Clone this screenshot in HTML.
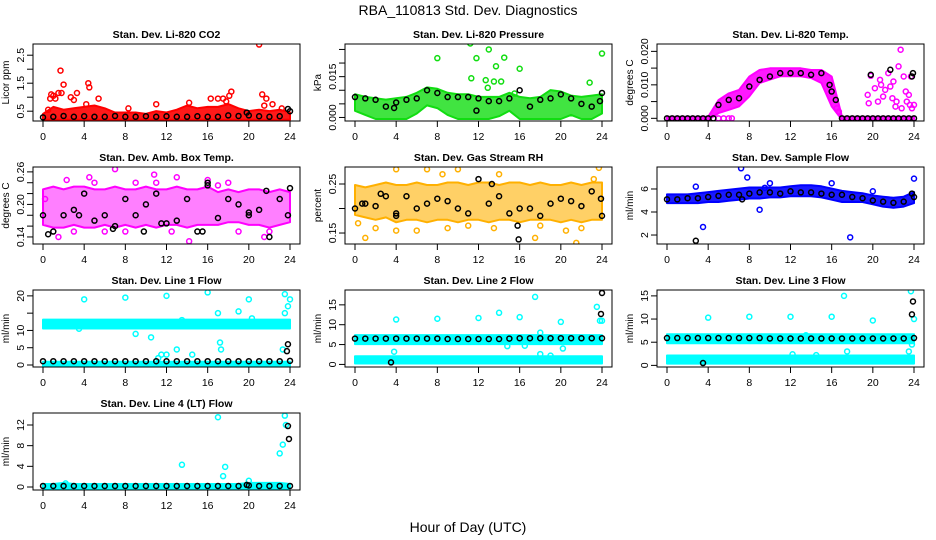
<!DOCTYPE html>
<html><head><meta charset="utf-8"><style>
html,body{margin:0;padding:0;background:#fff;}
svg{display:block;font-family:"Liberation Sans",Arial,sans-serif;}
</style></head><body>
<svg id="chart" width="936" height="540" viewBox="0 0 936 540">
<text x="468" y="15" text-anchor="middle" font-size="14">RBA_110813  Std. Dev. Diagnostics</text>
<text x="468" y="532" text-anchor="middle" font-size="14">Hour of Day (UTC)</text>
</svg>
<script>
const hours = [0,1,2,3,4,5,6,7,8,9,10,11,12,13,14,15,16,17,18,19,20,21,22,23,24];
const xTicks = [0,4,8,12,16,20,24];

// ---- CO2 ----
const co2BandLo = [0.25,0.25,0.25,0.25,0.25,0.25,0.25,0.25,0.25,0.25,0.25,0.25,0.25,0.25,0.25,0.25,0.25,0.25,0.25,0.25,0.25,0.25,0.25,0.25,0.25];
const co2BandHi = [0.35,0.6,0.5,0.55,0.6,0.65,0.55,0.4,0.4,0.4,0.35,0.45,0.4,0.5,0.65,0.55,0.6,0.6,0.7,0.55,0.45,0.5,0.45,0.5,0.4];
const co2Outliers = [[0.8,1.1],[0.7,0.95],[1,1.05],[1.2,0.95],[1.5,1.15],[1.7,1.95],[2.0,1.45],[1.8,1.15],[2.7,1.0],[3.0,0.9],[3.3,1.15],[4.4,1.5],[4.5,1.35],[5.4,0.95],[4.2,0.75],[8.3,0.6],[11,0.75],[14.2,0.8],[16.3,0.95],[17,0.95],[17.5,0.95],[17.8,0.85],[18.1,1.05],[18.3,1.2],[21,2.88],[21.3,1.1],[21.7,0.95],[21.5,0.7],[22.3,0.75],[0.5,0.55],[23.2,0.6]];
const co2Black = [0.28,0.3,0.33,0.3,0.32,0.3,0.3,0.33,0.3,0.3,0.32,0.3,0.32,0.3,0.3,0.32,0.3,0.3,0.35,0.33,0.35,0.32,0.3,0.32,0.5];
const co2BlackExtra = [[23.8,0.58],[19.8,0.45]];

// ---- Pressure (x0.001 kPa) ----
const prBandLo = [3,1.5,0,0,0,0,2,5,4,1.5,0,0,0,0,1,3,0,0,0,0,0,1.5,0,0,2];
const prBandHi = [8,7,6.5,6,6.5,7,8.5,10.5,10,8.5,8,8,7,7,7,8.5,7,6.5,7,9.5,9,7.5,7,7.5,8];
const prOutliers = [[8,21.8],[11.2,27.2],[11.3,14.4],[11.8,21.8],[13,25],[12.7,13.7],[13.5,13.2],[13.7,18.8],[14.2,13.2],[12.9,10.9],[14.5,22],[16,17.9],[22.8,12.8],[24,23.5],[15.5,8.8]];
const prBlack = [7.5,7,6.5,4,5.5,6.5,7,10,9,7.5,7.5,7.5,7,6,6,7,10,4,6.5,7,8.5,7,5,4,9];
const prBlackExtra = [[23.8,6],[11.8,2.5],[3.8,3.5]];

// ---- Li-820 Temp (x0.001 C) ----
const tmBandLo = [0,0,0,0,0,2,3,4,7,11,12,13,13,13,12.5,11,4,0,0,0,0,0,0,0,0];
const tmBandHi = [0,0,0,0,0,5,7,8,12,14,14.5,14.5,14.5,14.5,14,14,12,0,0,0,0,0,0,0,0];
const tmOutliers = [[5,0],[5.5,0],[6,0],[6.3,0],[16.5,3],[16.7,2],[19.5,7],[19.8,12.7],[20.2,9],[20.5,5],[20.8,10],[21,6.5],[21.2,8.5],[21.5,13.5],[21.7,9.5],[21.9,6],[22,11],[22.3,5],[22.5,15.5],[22.7,20.5],[22.8,3],[23,12.5],[23.2,8],[23.3,5],[23.5,7],[23.6,4],[23.8,3],[24,4],[23.7,12.5],[20.7,11.5],[22.2,3.5],[19.6,4.5]];
const tmBlack = [0,0,0,0,0,4,5.5,6,9.5,11.5,12.5,13.5,13.5,13.5,13,13.5,8,0,0,0,0,0,0,0,0];
const tmBlackExtra = [[19.8,13],[21.7,14.5],[23.8,12.5],[23.9,13.5],[16.4,5.5],[15.8,10],[0.5,0],[1.5,0],[2.5,0],[3.5,0],[4.5,0],[17.5,0],[18.5,0],[19.5,0],[20.5,0],[21.5,0],[22.5,0],[23.5,0]];

// ---- Amb box temp ----
const amBandLo = [0.165,0.16,0.16,0.165,0.16,0.16,0.165,0.16,0.165,0.16,0.165,0.16,0.165,0.165,0.16,0.165,0.165,0.165,0.17,0.17,0.165,0.165,0.16,0.165,0.17];
const amBandHi = [0.225,0.23,0.225,0.23,0.23,0.225,0.225,0.23,0.225,0.225,0.23,0.225,0.225,0.23,0.225,0.225,0.23,0.22,0.225,0.22,0.225,0.225,0.22,0.225,0.22];
const amOutliers = [[7,0.265],[4.5,0.25],[10.8,0.255],[14.2,0.132],[12.5,0.15],[16,0.245],[22,0.15],[1.5,0.14],[5,0.24],[13,0.25],[18,0.24],[2.3,0.245],[9,0.24],[21.5,0.14],[0.2,0.21],[3,0.15],[8,0.15],[19,0.15],[17,0.235],[11,0.24],[6,0.15]];
const amBlack = [0.18,0.15,0.18,0.19,0.22,0.17,0.18,0.16,0.21,0.18,0.2,0.22,0.165,0.17,0.21,0.15,0.24,0.175,0.21,0.2,0.185,0.19,0.14,0.21,0.23];
const amBlackExtra = [[0.5,0.145],[3.5,0.18],[6.8,0.155],[9.8,0.15],[11.5,0.165],[15.5,0.15],[16,0.235],[21.7,0.225],[23.8,0.18],[20,0.18]];

// ---- Gas stream RH ----
const rhBandLo = [0.19,0.185,0.18,0.185,0.175,0.18,0.18,0.175,0.18,0.18,0.175,0.18,0.18,0.175,0.18,0.18,0.175,0.18,0.18,0.18,0.175,0.18,0.175,0.18,0.18];
const rhBandHi = [0.245,0.24,0.245,0.25,0.245,0.245,0.25,0.245,0.245,0.25,0.25,0.245,0.25,0.25,0.245,0.25,0.25,0.245,0.25,0.245,0.245,0.25,0.245,0.25,0.25];
const rhOutliers = [[4,0.28],[7,0.28],[10,0.28],[1,0.14],[4,0.155],[6,0.155],[17.5,0.14],[21.5,0.13],[23.7,0.283],[23.2,0.26],[0.3,0.17],[9,0.16],[13.5,0.16],[20.5,0.155],[8.5,0.27],[14,0.27],[2,0.16],[11,0.165],[18,0.165],[22,0.16]];
const rhBlack = [0.2,0.21,0.205,0.225,0.19,0.225,0.2,0.21,0.22,0.215,0.2,0.19,0.26,0.21,0.225,0.19,0.2,0.2,0.185,0.21,0.22,0.215,0.205,0.235,0.185];
const rhBlackExtra = [[15.9,0.137],[15.8,0.165],[13.3,0.25],[4,0.185],[2.5,0.23],[23.9,0.22],[0.7,0.21]];

// ---- Sample flow ----
const sfBandLo = [4.9,4.9,4.9,4.9,5.0,5.0,5.1,5.2,5.3,5.3,5.4,5.4,5.5,5.5,5.5,5.4,5.2,5.0,5.0,5.0,4.8,4.6,4.5,4.6,4.9];
const sfBandHi = [5.4,5.4,5.4,5.5,5.6,5.7,5.8,5.9,6.0,6.0,6.0,6.0,6.1,6.2,6.2,6.1,5.9,5.7,5.6,5.5,5.3,5.2,5.1,5.2,5.6];
const sfOutliers = [[2.8,6.2],[3.5,2.7],[7.2,7.8],[7.8,7.0],[9,4.2],[9.5,6.1],[10,6.5],[16,6.5],[17.8,1.8],[24,6.9],[20,5.8]];
const sfBlack = [5.1,5.1,5.2,5.2,5.3,5.4,5.5,5.5,5.6,5.7,5.7,5.6,5.8,5.7,5.7,5.6,5.5,5.5,5.3,5.2,5.0,4.9,4.8,4.9,5.3];
const sfBlackExtra = [[2.8,1.5],[7.3,5.1],[23.8,5.6]];

// ---- Line 1 flow ----
const l1BandLo = [11.0,11.0,11.0,11.0,11.0,11.0,11.0,11.0,11.0,11.0,11.0,11.0,11.0,11.0,11.0,11.0,11.0,11.0,11.0,11.0,11.0,11.0,11.0,11.0,11.0];
const l1BandHi = [12.7,12.7,12.7,12.7,12.7,12.7,12.7,12.7,12.7,12.7,12.7,12.7,12.7,12.7,12.7,12.7,12.7,12.7,12.7,12.7,12.7,12.7,12.7,12.7,12.7];
const l1Band2Lo = [0,0,0,0,0,0,0,0,0,0,0,0,0,0,0,0,0,0,0,0,0,0,0,0,0];
const l1Band2Hi = [0.5,0.5,0.5,0.5,0.5,0.5,0.5,0.5,0.5,0.5,0.5,0.5,0.5,0.5,0.5,0.5,0.5,0.5,0.5,0.5,0.5,0.5,0.5,0.5,0.5];
const l1Outliers = [[4,19],[8,19.5],[12,20],[16,21],[20,19],[23.5,20.5],[24,19],[23.8,17],[23.5,15],[17,15],[19,15.5],[13.5,13],[10.5,8],[9,9],[11.5,3],[12,3],[13,4.5],[11.2,2],[14.5,3],[17.2,6.5],[17.3,4.5],[23.3,4.5],[3.5,10.5],[20.3,13.5]];
const l1Black = [1.1,1.1,1.1,1.1,1.1,1.1,1.1,1.1,1.1,1.1,1.1,1.1,1.1,1.1,1.1,1.1,1.1,1.1,1.1,1.1,1.1,1.1,1.1,1.1,1.2];
const l1BlackExtra = [[23.8,6],[23.7,4]];

// ---- Line 2 flow ----
const l2BandLo = [5.5,5.5,5.5,5.5,5.5,5.5,5.5,5.5,5.5,5.5,5.5,5.5,5.5,5.5,5.5,5.5,5.5,5.5,5.5,5.5,5.5,5.5,5.5,5.5,5.5];
const l2BandHi = [7.0,7.0,7.0,7.0,7.0,7.0,7.0,7.0,7.0,7.0,7.0,7.0,7.0,7.0,7.0,7.0,7.0,7.0,7.0,7.0,7.0,7.0,7.0,7.0,7.0];
const l2Band2Lo = [0.6,0.6,0.6,0.6,0.6,0.6,0.6,0.6,0.6,0.6,0.6,0.6,0.6,0.6,0.6,0.6,0.6,0.6,0.6,0.6,0.6,0.6,0.6,0.6,0.6];
const l2Band2Hi = [1.7,1.7,1.7,1.7,1.7,1.7,1.7,1.7,1.7,1.7,1.7,1.7,1.7,1.7,1.7,1.7,1.7,1.7,1.7,1.7,1.7,1.7,1.7,1.7,1.7];
const l2Outliers = [[4,11.3],[8,11.5],[12,11.7],[14,13],[16,11.9],[17.5,17],[18,8],[20,10.7],[20.2,4],[23.5,14.5],[23.8,11],[24,11],[3.8,3.2],[18,2.6],[19,2.2],[16.5,4.7],[14.8,4.6]];
const l2Black = [6.5,6.5,6.5,6.5,6.5,6.5,6.5,6.5,6.5,6.4,6.4,6.4,6.4,6.4,6.4,6.5,6.6,6.6,6.6,6.6,6.6,6.6,6.6,6.6,6.6];
const l2BlackExtra = [[24,18],[23.9,12.7],[3.5,0.5]];

// ---- Line 3 flow ----
const l3BandLo = [5.1,5.1,5.1,5.1,5.1,5.1,5.1,5.1,5.1,5.1,5.1,5.1,5.1,5.1,5.1,5.1,5.1,5.1,5.1,5.1,5.1,5.1,5.1,5.1,5.1];
const l3BandHi = [6.4,6.4,6.4,6.4,6.4,6.4,6.4,6.4,6.4,6.4,6.4,6.4,6.4,6.4,6.4,6.4,6.4,6.4,6.4,6.4,6.4,6.4,6.4,6.4,6.4];
const l3Band2Lo = [0.7,0.7,0.7,0.7,0.7,0.7,0.7,0.7,0.7,0.7,0.7,0.7,0.7,0.7,0.7,0.7,0.7,0.7,0.7,0.7,0.7,0.7,0.7,0.7,0.7];
const l3Band2Hi = [1.8,1.8,1.8,1.8,1.8,1.8,1.8,1.8,1.8,1.8,1.8,1.8,1.8,1.8,1.8,1.8,1.8,1.8,1.8,1.8,1.8,1.8,1.8,1.8,1.8];
const l3Outliers = [[4,10.3],[8,10.5],[12,10.5],[16,10.5],[17.2,15],[20,9.7],[23.7,16],[24,10],[23.5,3],[23.8,4.5],[17.5,3],[13.5,6.5],[12.2,2.4],[14.5,2.2]];
const l3Black = [5.9,5.9,5.9,5.9,5.9,5.9,5.9,5.9,5.9,5.9,5.8,5.8,5.8,5.8,5.8,5.8,5.8,5.8,5.8,5.8,5.8,5.8,5.8,5.8,5.9];
const l3BlackExtra = [[23.9,13.8],[23.8,11],[3.5,0.5]];

// ---- Line 4 flow ----
const l4BandLo = [0,0,0,0,0,0,0,0,0,0,0,0,0,0,0,0,0,0,0,0,0,0,0,0,0];
const l4BandHi = [0.3,0.3,0.5,0.3,0.3,0.3,0.3,0.3,0.3,0.3,0.3,0.3,0.3,0.3,0.3,0.3,0.3,0.3,0.3,0.3,0.5,0.5,0.5,0.5,0.3];
const l4Outliers = [[13.5,4.3],[17,13.5],[17.5,2.1],[17.7,3.9],[20,1.2],[23,6.5],[23.3,8.2],[23.5,13.8],[23.6,12],[2.2,0.7]];
const l4Black = [0.2,0.2,0.2,0.2,0.2,0.2,0.2,0.2,0.2,0.2,0.2,0.2,0.2,0.2,0.2,0.2,0.2,0.2,0.2,0.2,0.3,0.2,0.2,0.2,0.2];
const l4BlackExtra = [[23.8,11.8],[23.9,9.3],[19.8,0.4]];

const NS = 'http://www.w3.org/2000/svg';
const svg = document.getElementById('chart');
function mk(tag, attrs, parent) {
  const e = document.createElementNS(NS, tag);
  for (const k in attrs) e.setAttribute(k, attrs[k]);
  (parent || svg).appendChild(e);
  return e;
}

const panels = [
  {id:'co2', title:'Stan. Dev. Li-820 CO2', ylab:'Licor ppm', col:0, row:0, ylim:[0.15,2.9], color:'#ff0000', op:0.9,
   ticks:[0.5,1,1.5,2,2.5], labels:[[0.5,'0.5'],[1.5,'1.5'],[2.5,'2.5']], bands:[[co2BandLo,co2BandHi]], out:co2Outliers, black:co2Black, bx:co2BlackExtra},
  {id:'pressure', title:'Stan. Dev. Li-820 Pressure', ylab:'kPa', col:1, row:0, ylim:[-1.3,27], color:'#11dd11', op:0.8,
   ticks:[0,5,10,15,20,25], labels:[[0,'0.000'],[15,'0.015']], bands:[[prBandLo,prBandHi]], out:prOutliers, black:prBlack, bx:prBlackExtra},
  {id:'li820-temp', title:'Stan. Dev. Li-820 Temp.', ylab:'degrees C', col:2, row:0, ylim:[-0.8,22.2], color:'#ff00ff', op:0.9,
   ticks:[0,5,10,15,20], labels:[[0,'0.000'],[10,'0.010'],[20,'0.020']], bands:[[tmBandLo,tmBandHi]], out:tmOutliers, black:tmBlack, bx:tmBlackExtra},
  {id:'amb-box-temp', title:'Stan. Dev. Amb. Box Temp.', ylab:'degrees C', col:0, row:1, ylim:[0.127,0.269], color:'#ff00ff', op:0.5,
   ticks:[0.14,0.16,0.18,0.2,0.22,0.24,0.26], labels:[[0.14,'0.14'],[0.2,'0.20'],[0.26,'0.26']], bands:[[amBandLo,amBandHi]], out:amOutliers, black:amBlack, bx:amBlackExtra},
  {id:'gas-rh', title:'Stan. Dev. Gas Stream RH', ylab:'percent', col:1, row:1, ylim:[0.1276,0.2847], color:'#ffb000', op:0.6,
   ticks:[0.15,0.2,0.25], labels:[[0.15,'0.15'],[0.25,'0.25']], bands:[[rhBandLo,rhBandHi]], out:rhOutliers, black:rhBlack, bx:rhBlackExtra},
  {id:'sample-flow', title:'Stan. Dev. Sample Flow', ylab:'ml/min', col:2, row:1, ylim:[1.22,7.91], color:'#0000ff', op:0.9,
   ticks:[2,4,6], labels:[[2,'2'],[4,'4'],[6,'6']], bands:[[sfBandLo,sfBandHi]], out:sfOutliers, black:sfBlack, bx:sfBlackExtra},
  {id:'line1-flow', title:'Stan. Dev. Line 1 Flow', ylab:'ml/min', col:0, row:2, ylim:[-0.58,21.7], color:'#00ffff', op:1,
   ticks:[0,5,10,15,20], labels:[[0,'0'],[5,'5'],[10,'10'],[20,'20']], bands:[[l1BandLo,l1BandHi],[l1Band2Lo,l1Band2Hi]], out:l1Outliers, black:l1Black, bx:l1BlackExtra},
  {id:'line2-flow', title:'Stan. Dev. Line 2 Flow', ylab:'ml/min', col:1, row:2, ylim:[-0.65,18.74], color:'#00ffff', op:1,
   ticks:[0,5,10,15], labels:[[0,'0'],[5,'5'],[10,'10'],[15,'15']], bands:[[l2BandLo,l2BandHi],[l2Band2Lo,l2Band2Hi]], out:l2Outliers, black:l2Black, bx:l2BlackExtra},
  {id:'line3-flow', title:'Stan. Dev. Line 3 Flow', ylab:'ml/min', col:2, row:2, ylim:[-0.35,16.27], color:'#00ffff', op:1,
   ticks:[0,5,10,15], labels:[[0,'0'],[5,'5'],[10,'10'],[15,'15']], bands:[[l3BandLo,l3BandHi],[l3Band2Lo,l3Band2Hi]], out:l3Outliers, black:l3Black, bx:l3BlackExtra},
  {id:'line4-flow', title:'Stan. Dev. Line 4 (LT) Flow', ylab:'ml/min', col:0, row:3, ylim:[-0.58,14.32], color:'#00ffff', op:1,
   ticks:[0,4,8,12], labels:[[0,'0'],[4,'4'],[8,'8'],[12,'12']], bands:[[l4BandLo,l4BandHi]], out:l4Outliers, black:l4Black, bx:l4BlackExtra}
];

const rowTops = [44,167,290,413];
const boxH = 77;

panels.forEach(p => {
  const left = 33 + p.col*312, right = left + 267;
  const top = rowTops[p.row], bottom = top + boxH;
  const x0 = left + 10, xw = 247;
  const X = h => x0 + h/24*xw;
  const Y = v => bottom - (v - p.ylim[0])/(p.ylim[1]-p.ylim[0])*boxH;
  const g = mk('g', {});
  
  

  const t = mk('text', {x:(left+right)/2, y:top-6, 'text-anchor':'middle', 'font-size':10.5, 'font-weight':'bold'}, g);
  t.textContent = p.title;
  
  

  const clip = 'clip-' + p.id;
  const cp = mk('clipPath', {id:clip}, g);
  mk('rect', {x:left, y:top, width:right-left, height:boxH}, cp);
  const pg = mk('g', {'clip-path':'url(#'+clip+')'}, g);

  p.bands.forEach((b, bi) => {
    const lo = b[0], hi = b[1];
    let d = '';
    hours.forEach((h,i) => { d += (i?'L':'M') + X(h).toFixed(1) + ',' + (Y(hi[i])-1.5).toFixed(1); });
    for (let i = hours.length-1; i >= 0; i--) d += 'L' + X(hours[i]).toFixed(1) + ',' + (Y(lo[i])+1.5).toFixed(1);
    const band = mk('path', {d:d+'Z', fill:p.color, 'fill-opacity':p.op, stroke:p.color, 'stroke-width':2, 'stroke-linejoin':'round'}, pg);
    
    
  });
  p.out.forEach(o => {
    const c = mk('circle', {cx:X(o[0]), cy:Y(o[1]), r:2.5, fill:'none', stroke:p.color, 'stroke-width':1.5}, pg);
    
    
  });
  hours.forEach((h,i) => {
    const c = mk('circle', {cx:X(h), cy:Y(p.black[i]), r:2.5, fill:'none', stroke:'#000', 'stroke-width':1.5}, pg);
    
    
  });
  p.bx.forEach(o => {
    const c = mk('circle', {cx:X(o[0]), cy:Y(o[1]), r:2.5, fill:'none', stroke:'#000', 'stroke-width':1.5}, pg);
    
    
  });

  const box = mk('rect', {x:left, y:top, width:right-left, height:boxH, fill:'none', stroke:'#000', 'stroke-width':1}, g);
  
  

  const xa = mk('g', {}, g);
  
  
  mk('line', {x1:X(0), x2:X(24), y1:bottom, y2:bottom, stroke:'#000'}, xa);
  xTicks.forEach(h => {
    mk('line', {x1:X(h), x2:X(h), y1:bottom, y2:bottom+6, stroke:'#000'}, xa);
    const tl = mk('text', {x:X(h), y:bottom+19, 'text-anchor':'middle', 'font-size':10.5}, xa);
    tl.textContent = h;
  });
  const ya = mk('g', {}, g);
  
  
  p.ticks.forEach(v => { mk('line', {x1:left-6, x2:left, y1:Y(v), y2:Y(v), stroke:'#000'}, ya); });
  mk('line', {x1:left, x2:left, y1:Y(p.ticks[0]), y2:Y(p.ticks[p.ticks.length-1]), stroke:'#000'}, ya);
  p.labels.forEach(l => {
    const tl = mk('text', {x:0, y:0, 'text-anchor':'middle', 'font-size':10.5, transform:'translate('+(left-9)+','+Y(l[0])+') rotate(-90)'}, ya);
    tl.textContent = l[1];
  });
  const yl = mk('text', {x:0, y:0, 'text-anchor':'middle', 'font-size':10, transform:'translate('+(left-24)+','+(top+boxH/2)+') rotate(-90)'}, g);
  yl.textContent = p.ylab;
  
  
});
</script>
</body></html>
